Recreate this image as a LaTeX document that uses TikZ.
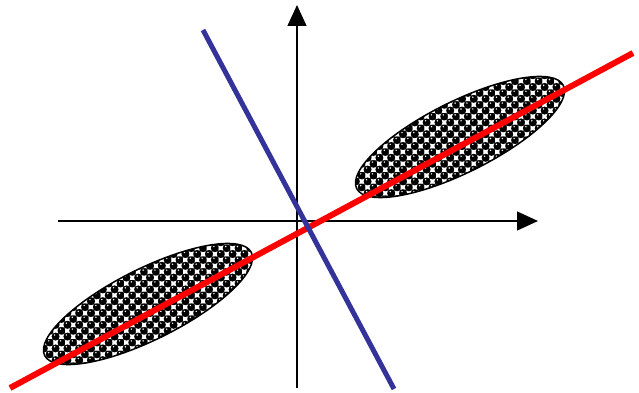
\documentclass[tikz,border=0pt]{standalone}
\usetikzlibrary{arrows.meta,shapes.geometric}
\definecolor{bluel}{RGB}{51,51,153}
\tikzset{
  axis/.style={line width=1.4pt,-{Triangle[length=21pt,width=19pt]}},
  cluster/.style={ellipse,draw=black,line width=1.5pt,
    minimum width=231pt,minimum height=71pt,inner sep=0pt,rotate=26.5},
  blueline/.style={draw=bluel,line width=5pt},
  redline/.style={draw=red,line width=6pt},
  ball/.style={fill=black},
  gap/.style={fill=white},
  shine/.style={fill=white}
}
\newcommand\spherefield[2]{%
  \begin{scope}[shift={(#1,#2)}]
    \fill[black!55] (-6,-6) rectangle (246,146);
    \foreach \a in {0,...,20}{
      \foreach \b in {0,...,12}{
        \pgfmathsetmacro\X{\a*11.8}
        \pgfmathsetmacro\Y{\b*11.8}
        \path[gap] (\X+3.6,\Y-2.3) rectangle ++(4.6,4.6)
                   (\X-2.3,\Y+3.6) rectangle ++(4.6,4.6);
        \path[ball] (\X,\Y) circle (4.0) (\X+5.9,\Y+5.9) circle (4.0);
        \path[shine] (\X-1,\Y+1.6) circle (0.8) (\X+4.9,\Y+7.5) circle (0.8);
      }
    }
  \end{scope}}
\begin{document}
\begin{tikzpicture}[x=1pt,y=1pt]
\useasboundingbox (0,0) rectangle (639,393);
\coordinate (xs) at (58,172);
\coordinate (xe) at (538,172);
\coordinate (ys) at (297,5);
\coordinate (ye) at (297,388);
\coordinate (bs) at (203,363);
\coordinate (be) at (394,4);
\coordinate (rs) at (10,5);
\coordinate (re) at (633,340);
\draw[axis] (xs) -- (xe);
\draw[axis] (ys) -- (ye);
\begin{scope}
  \clip[rotate around={26.5:(460,256)}] (460,256) ellipse [x radius=115.5,y radius=35.5];
  \spherefield{344}{188}
\end{scope}
\begin{scope}
  \clip[rotate around={26.5:(148,89)}] (148,89) ellipse [x radius=115.5,y radius=35.5];
  \spherefield{32}{21}
\end{scope}
\node[cluster] (up) at (460,256) {};
\node[cluster] (lo) at (148,89) {};
\draw[redline] (rs) -- (re);
\draw[blueline] (bs) -- (be);
\end{tikzpicture}
\end{document}
